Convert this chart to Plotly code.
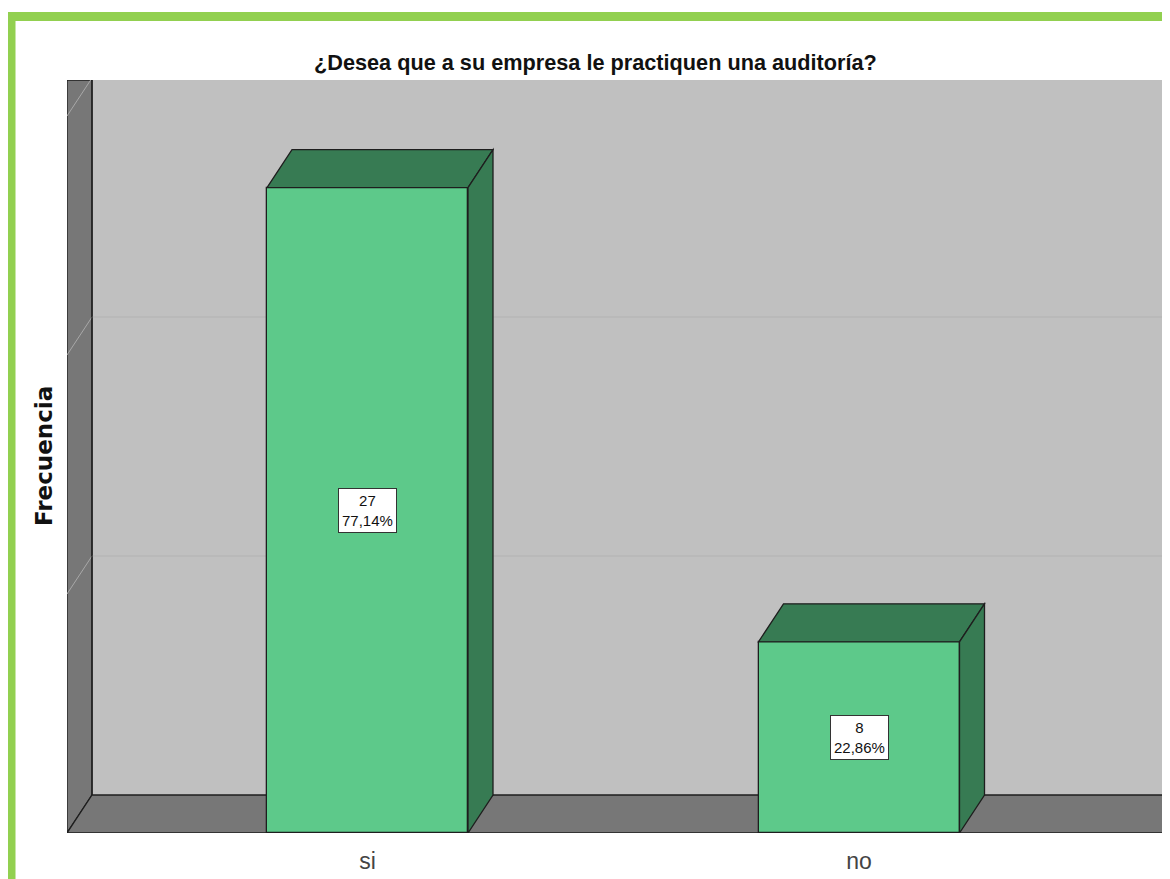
import plotly.graph_objects as go

# ---- data ----
categories = ["si", "no"]
frequencies = [27, 8]
percent_labels = ["77,14%", "22,86%"]
title_text = "¿Desea que a su empresa le practiquen una auditoría?"
y_title = "Frecuencia"
grid_values = [10, 20, 30]

# ---- geometry ----
OFF = 8  # page body margin in the browser
W, H = 1170 - OFF, 879 - OFF
ML, MT = 67 - OFF, 80 - OFF
MR = 0
MB = H - (833 - OFF)
px_per_x = 491.5
px_per_y = 23.9
plot_w = W - ML - MR
plot_h = H - MT - MB
x0 = -(367.5 - 67) / px_per_x
x1 = x0 + plot_w / px_per_x
DX = 25 / px_per_x
DY = 38 / px_per_y
y1 = plot_h / px_per_y
BW = 201 / px_per_x

front = "#5DC98A"
dark = "#377B53"
edge = "#1E1E1E"
wall = "#777777"
back = "#C0C0C0"

xs = list(range(len(categories)))
fig = go.Figure()
fig.add_trace(go.Bar(x=xs, y=frequencies, width=BW, marker=dict(color=front, line=dict(color=edge, width=1.3)),
                     hoverinfo="skip"))

shapes = []
shapes.append(dict(type="rect", xref="x", yref="y", x0=x0 + DX, x1=x1 + 1, y0=DY, y1=y1,
                   fillcolor=back, line=dict(width=0), layer="below"))
shapes.append(dict(type="path", xref="x", yref="y",
                   path=f"M{x0},0 L{x0},{y1} L{x0+DX},{y1} L{x0+DX},{DY} Z",
                   fillcolor=wall, line=dict(color=edge, width=1.3), layer="below"))
shapes.append(dict(type="path", xref="x", yref="y",
                   path=f"M{x0},0 L{x0+DX},{DY} L{x1+1},{DY} L{x1+1},0 Z",
                   fillcolor=wall, line=dict(color=edge, width=1.3), layer="below"))
for g in grid_values:
    shapes.append(dict(type="line", xref="x", yref="y", x0=x0 + DX, x1=x1 + 1, y0=g + DY, y1=g + DY,
                       line=dict(color="#B2B2B2", width=1), layer="below"))
    shapes.append(dict(type="line", xref="x", yref="y", x0=x0, x1=x0 + DX, y0=g, y1=g + DY,
                       line=dict(color="#A8A8A8", width=1), layer="below"))
shapes.append(dict(type="line", xref="x", yref="y", x0=x0 + DX, x1=x0 + DX, y0=DY, y1=y1,
                   line=dict(color=edge, width=1.3), layer="below"))

for xi, v in zip(xs, frequencies):
    l, r = xi - BW / 2, xi + BW / 2
    shapes.append(dict(type="path", xref="x", yref="y",
                       path=f"M{l},{v} L{l+DX},{v+DY} L{r+DX},{v+DY} L{r},{v} Z",
                       fillcolor=dark, line=dict(color=edge, width=1.3)))
    shapes.append(dict(type="path", xref="x", yref="y",
                       path=f"M{r},0 L{r},{v} L{r+DX},{v+DY} L{r+DX},{DY} Z",
                       fillcolor=dark, line=dict(color=edge, width=1.3)))

# page coords -> paper coords
fx = lambda p: (p - OFF - ML) / plot_w
fy = lambda p: (H - MB - (p - OFF)) / plot_h
shapes.append(dict(type="rect", xref="paper", yref="paper", x0=fx(11), x1=fx(1220), y0=fy(16.5), y1=fy(940),
                   line=dict(color="#92D050", width=9), fillcolor="rgba(0,0,0,0)", layer="above"))

annotations = []
for xi, v, p in zip(xs, frequencies, percent_labels):
    annotations.append(dict(x=xi, y=v / 2, xref="x", yref="y", text=f"{v}<br>{p}", showarrow=False,
                            xanchor="center", yanchor="middle",
                            font=dict(family="Liberation Sans Narrow, Liberation Sans, Arial", size=15, color="#111"),
                            bgcolor="white", bordercolor="#333", borderwidth=1, borderpad=3))
annotations.append(dict(x=fx(595), y=fy(62), xref="paper", yref="paper", text=f"<b>{title_text}</b>",
                        showarrow=False, xanchor="center", yanchor="middle",
                        font=dict(family="Liberation Sans Narrow, Liberation Sans, Arial",
                                  size=21.7, color="#111")))
annotations.append(dict(x=fx(44), y=fy(456), xref="paper", yref="paper", text=f"<b>{y_title}</b>",
                        showarrow=False, textangle=-90, xanchor="center", yanchor="middle",
                        font=dict(family="DejaVu Sans", size=23, color="#111")))

fig.update_layout(
    width=W, height=H, margin=dict(l=ML, r=MR, t=MT, b=MB),
    paper_bgcolor="white", plot_bgcolor="white", showlegend=False,
    shapes=shapes, annotations=annotations, bargap=0,
    xaxis=dict(range=[x0, x1], tickvals=xs, ticktext=categories, showgrid=False, zeroline=False,
               showline=False, ticks="", ticklabelstandoff=12,
               tickfont=dict(family="Liberation Sans Narrow, Liberation Sans, Arial", size=23, color="#444")),
    yaxis=dict(range=[0, y1], showgrid=False, zeroline=False, showticklabels=False, showline=False),
)
fig.write_html("out.html")
